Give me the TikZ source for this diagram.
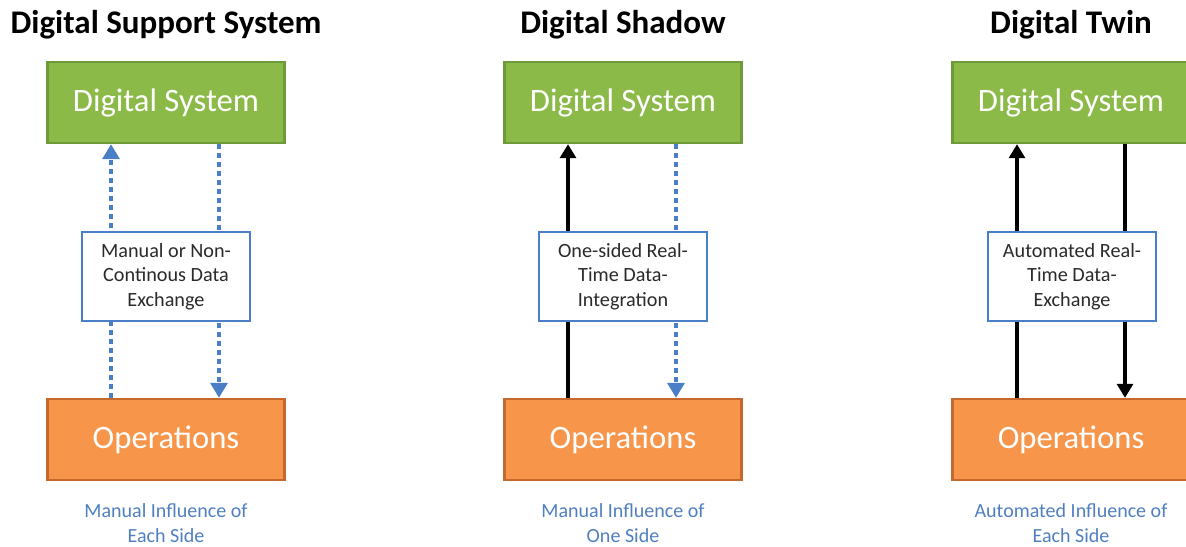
\documentclass[tikz,border=0pt]{standalone}
\usepackage{fontspec}
\setmainfont{Carlito}
\usetikzlibrary{arrows.meta}

\definecolor{verde}{HTML}{8CBA48}
\definecolor{verdeborde}{HTML}{6E9A3A}
\definecolor{naranja}{HTML}{F7964A}
\definecolor{naranjaborde}{HTML}{C4682D}
\definecolor{azul}{HTML}{4A7FC8}
\definecolor{azultexto}{HTML}{4F7FC0}
\definecolor{gristexto}{HTML}{2A2A2A}

\tikzset{
  titulo/.style={font=\bfseries\fontsize{18.8}{22}\selectfont},
  sistema/.style={draw=verdeborde, line width=1.3pt, fill=verde, text=white,
    minimum width=4.74cm, minimum height=1.62cm, font=\fontsize{18.6}{22}\selectfont},
  operaciones/.style={draw=naranjaborde, line width=1.3pt, fill=naranja, text=white,
    minimum width=4.74cm, minimum height=1.62cm, font=\fontsize{18.6}{22}\selectfont},
  intercambio/.style={draw=azul, line width=1.2pt, fill=white, align=center, text=gristexto,
    minimum width=3.36cm, minimum height=1.78cm, font=\fontsize{11.5}{13.8}\selectfont},
  leyenda/.style={text=azultexto, align=center, font=\fontsize{11.4}{14.2}\selectfont},
  punteada/.style={draw=azul, line width=2.8pt, dash pattern=on 2.8pt off 2.3pt,
    -{Triangle[length=8.5pt,width=9.5pt]}},
  solida/.style={draw=black, line width=2.6pt, -{Triangle[length=8pt,width=9pt]}}
}

\begin{document}
\begin{tikzpicture}[x=0.02cm, y=-0.02cm]
  \useasboundingbox (0,0) rectangle (1186,547);

  % Titulos
  \node[titulo] (t1) at (166,25) {Digital Support System};
  \node[titulo] (t2) at (623,25) {Digital Shadow};
  \node[titulo] (t3) at (1071,25) {Digital Twin};

  % Cajas
  \node[sistema] (ds1) at (166,102.5) {Digital System};
  \node[sistema] (ds2) at (623,102.5) {Digital System};
  \node[sistema] (ds3) at (1071,102.5) {Digital System};
  \node[operaciones] (op1) at (166,439.5) {Operations};
  \node[operaciones] (op2) at (623,439.5) {Operations};
  \node[operaciones] (op3) at (1071,439.5) {Operations};

  % Flechas
  \draw[punteada] ([xshift=-1.1cm]op1.north) -- ([xshift=-1.1cm]ds1.south);
  \draw[punteada] ([xshift=1.06cm]ds1.south) -- ([xshift=1.06cm]op1.north);
  \draw[solida] ([xshift=-1.1cm]op2.north) -- ([xshift=-1.1cm]ds2.south);
  \draw[punteada] ([xshift=1.06cm]ds2.south) -- ([xshift=1.06cm]op2.north);
  \draw[solida] ([xshift=-1.08cm]op3.north) -- ([xshift=-1.08cm]ds3.south);
  \draw[solida] ([xshift=1.08cm]ds3.south) -- ([xshift=1.08cm]op3.north);

  % Intercambio de datos
  \node[intercambio] (in1) at (166,276.5) {Manual or Non-\\Continous Data\\Exchange};
  \node[intercambio] (in2) at (623,276.5) {One-sided Real-\\Time Data-\\Integration};
  \node[intercambio] (in3) at (1072,276.5) {Automated Real-\\Time Data-\\Exchange};

  % Leyendas
  \node[leyenda] (le1) at (166,523) {Manual Influence of\\Each Side};
  \node[leyenda] (le2) at (623,523) {Manual Influence of\\One Side};
  \node[leyenda] (le3) at (1071,523) {Automated Influence of\\Each Side};
\end{tikzpicture}
\end{document}
